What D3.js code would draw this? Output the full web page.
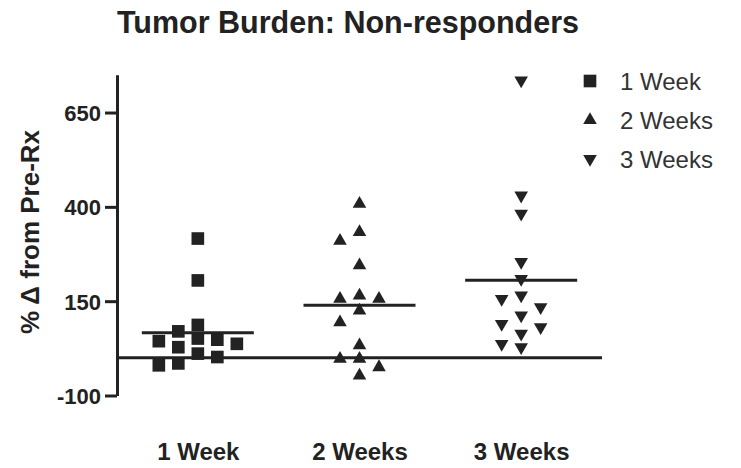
<!DOCTYPE html>
<html>
<head>
<meta charset="utf-8">
<script src="https://cdn.jsdelivr.net/npm/d3@7"></script>
<style>
  body { margin: 0; background: #fff; }
  text { font-family: "Liberation Sans", Arial, sans-serif; fill: #222; }
</style>
</head>
<body>
<div id="chart"></div>
<script>
// data
var groups = ["1 Week", "2 Weeks", "3 Weeks"];
var week1 = [316, 205, 87, 70, 51, 48, 44, 37, 28, 11, 2, -15, -20];
var week2 = [408, 333, 310, 245, 165, 156, 156, 125, 94, 33, -3, -3, -25, -47];
var week3 = [735, 430, 382, 254, 209, 165, 156, 134, 112, 90, 81, 64, 37, 28];
var yTicks = [-100, 150, 400, 650];
var yDomain = [-100, 750];

var svgWidth = 741;
var svgHeight = 468;
var ink = "#222";

var svg = d3.select("#chart")
  .append("svg")
  .attr("width", svgWidth)
  .attr("height", svgHeight);

// scales
var x = d3.scalePoint()
  .domain(groups)
  .range([117, 602])
  .padding(0.5);

var y = d3.scaleLinear()
  .domain(yDomain)
  .range([395.5, 74.8]);

// title
svg.append("text")
  .attr("x", 348)
  .attr("y", 33)
  .attr("text-anchor", "middle")
  .style("font-size", "30.5px")
  .style("font-weight", "bold")
  .text("Tumor Burden: Non-responders");

// y axis (plain hyphen for negatives, like the original)
var yAxis = d3.axisLeft(y)
  .tickValues(yTicks)
  .tickFormat(function(d) { return String(d); })
  .tickSize(12)
  .tickSizeOuter(0)
  .tickPadding(4);

var yg = svg.append("g")
  .attr("transform", "translate(117,0)")
  .call(yAxis);
yg.select(".domain").attr("stroke", ink).attr("stroke-width", 3);
yg.selectAll(".tick line").attr("stroke", ink).attr("stroke-width", 3);
yg.selectAll(".tick text")
  .style("font-size", "22px")
  .style("font-weight", "bold")
  .attr("dy", "0.36em")
  .style("fill", ink);

svg.append("text")
  .attr("transform", "translate(39," + 232 + ") rotate(-90)")
  .attr("text-anchor", "middle")
  .style("font-size", "26px")
  .style("font-weight", "bold")
  .text("% \u0394 from Pre-Rx");

// zero line across the plot
svg.append("line")
  .attr("x1", x.range()[0])
  .attr("x2", x.range()[1])
  .attr("y1", y(0))
  .attr("y2", y(0))
  .attr("stroke", ink)
  .attr("stroke-width", 3);

// x labels at the bottom
var xg = svg.append("g")
  .attr("transform", "translate(0,443)")
  .call(d3.axisBottom(x).tickSize(0).tickPadding(0));
xg.select(".domain").remove();
xg.selectAll(".tick text")
  .style("font-size", "24px")
  .style("font-weight", "bold")
  .attr("dy", "0.72em")
  .style("fill", ink);

// symbols
var up = d3.symbol().type(d3.symbolTriangle).size(80);
var square = d3.symbol().type(d3.symbolSquare).size(160);
var shapes = [
  { d: square(), rot: 0 },
  { d: up(), rot: 0 },
  { d: up(), rot: 180 }
];

// simple dodge so points with close values sit side by side
var slot = 19.5;
var gap = 13;
function dodge(values) {
  var placed = [];
  var order = [0, -1, 1, -2, 2, -3, 3];
  return values.map(function(v) {
    var py = y(v);
    var k = order.find(function(k) {
      return !placed.some(function(p) { return p.k === k && Math.abs(p.y - py) < gap; });
    });
    placed.push({ y: py, k: k });
    return { v: v, k: k };
  });
}

var series = [week1, week2, week3];

series.forEach(function(values, i) {
  var cx = x(groups[i]);
  var pts = dodge(values);

  svg.append("g").selectAll("path")
    .data(pts)
    .enter()
    .append("path")
    .attr("d", shapes[i].d)
    .attr("transform", function(d) {
      return "translate(" + (cx + d.k * slot) + "," + y(d.v) + ") rotate(" + shapes[i].rot + ")";
    })
    .attr("fill", ink);

  // mean line
  var m = d3.mean(values);
  svg.append("line")
    .attr("x1", cx - 56)
    .attr("x2", cx + 56)
    .attr("y1", y(m))
    .attr("y2", y(m))
    .attr("stroke", ink)
    .attr("stroke-width", 3);
});

// legend
var legend = svg.append("g");
groups.forEach(function(g, i) {
  var ly = 81 + i * 39;
  legend.append("path")
    .attr("d", shapes[i].d)
    .attr("transform", "translate(590," + ly + ") rotate(" + shapes[i].rot + ")")
    .attr("fill", ink);
  legend.append("text")
    .attr("x", 620)
    .attr("y", ly)
    .attr("dy", "0.36em")
    .style("font-size", "24px")
    .style("fill", "#333")
    .text(g);
});
</script>
</body>
</html>
